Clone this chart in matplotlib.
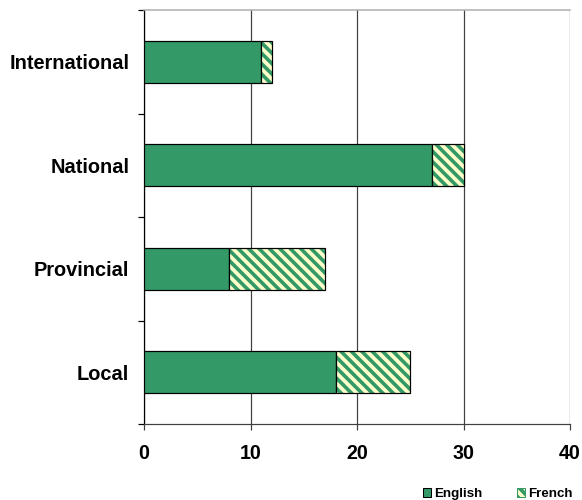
import matplotlib
matplotlib.use("Agg")
import matplotlib.pyplot as plt
from matplotlib.patches import Patch
from matplotlib.ticker import FixedLocator

plt.rcParams['font.family'] = ['Liberation Sans', 'DejaVu Sans']
plt.rcParams['font.weight'] = 'bold'
plt.rcParams['hatch.linewidth'] = 2.1

# Media coverage by level, split by language
categories = ["Local", "Provincial", "National", "International"]
english = [18, 8, 27, 11]
french = [7, 9, 3, 1]
x_ticks = [0, 10, 20, 30, 40]

GREEN = "#339966"
YELLOW = "#FFFFCC"
STRIPES = "\\\\\\\\"

fig = plt.figure(figsize=(582 / 125, 500 / 125), dpi=125)
ax = fig.add_axes([144 / 582, 1 - 424 / 500, 426 / 582, 414 / 500])

pos = list(range(len(categories)))
h = 0.41

ax.barh(pos, english, height=h, color=GREEN, edgecolor="black", linewidth=0.7, zorder=3)
# hatched fill for the French part, outline drawn separately so stripes stay green
ax.barh(pos, french, left=english, height=h, color=YELLOW, edgecolor=GREEN,
        hatch=STRIPES, linewidth=0, zorder=3)
ax.barh(pos, french, left=english, height=h, fill=False, edgecolor="black",
        linewidth=0.7, zorder=4)

ax.set_xlim(0, 40)
ax.set_ylim(-0.5, len(categories) - 0.5)
ax.set_xticks(x_ticks)
ax.set_xticklabels([str(v) for v in x_ticks], fontsize=11.3, fontweight="bold")
ax.set_yticks(pos)
ax.set_yticklabels(categories, fontsize=11.5, fontweight="bold")
ax.yaxis.set_minor_locator(FixedLocator([p - 0.5 for p in pos] + [len(categories) - 0.5]))
ax.tick_params(axis="y", which="major", length=0, pad=8.5)
ax.tick_params(axis="y", which="minor", length=3.5, width=0.7, color="black")
ax.tick_params(axis="x", which="major", length=3.5, width=0.7, pad=8, color="#404040")

ax.grid(axis="x", color="#404040", linewidth=0.7, zorder=0)
ax.grid(axis="y", visible=False)
ax.set_axisbelow(True)

ax.spines["left"].set_color("black")
ax.spines["left"].set_linewidth(0.7)
ax.spines["bottom"].set_color("#404040")
ax.spines["bottom"].set_linewidth(0.7)
ax.spines["top"].set_color("#B0B0B0")
ax.spines["top"].set_linewidth(0.9)
ax.spines["right"].set_visible(False)

handles = [
    Patch(facecolor=GREEN, edgecolor="black", linewidth=0.6, label="English"),
    Patch(facecolor=YELLOW, edgecolor=GREEN, hatch=STRIPES, linewidth=0.6, label="French"),
]
leg = fig.legend(handles=handles, loc="lower right", bbox_to_anchor=(1.005, -0.024),
                 ncol=2, frameon=False, prop={"size": 7.7, "weight": "bold"},
                 handlelength=0.6, handleheight=0.6, handletextpad=0.25,
                 columnspacing=2.6)

fig.savefig("out.png", dpi=125)
